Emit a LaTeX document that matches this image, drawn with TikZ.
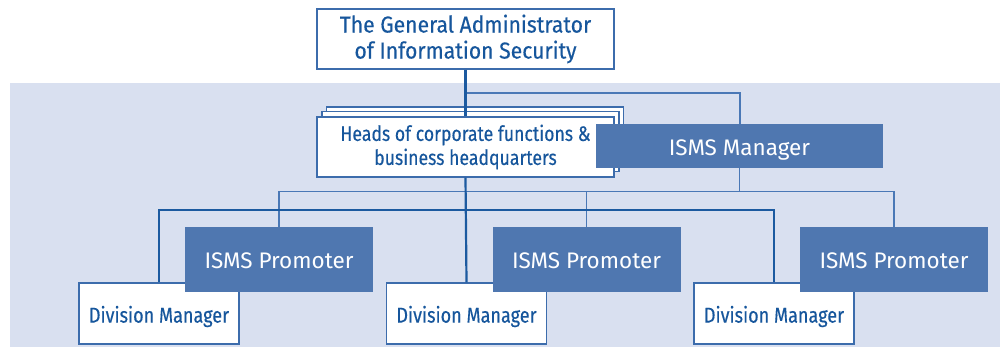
\documentclass[tikz,border=0pt]{standalone}
\usepackage{fontspec}
\setmainfont{Fira Sans}
\newfontfamily\topfont{Fira Sans}[FakeStretch=0.92,FakeBold=0.3]
\newfontfamily\condfont{Fira Sans}[FakeStretch=0.84,FakeBold=0.3]
\definecolor{bgc}{RGB}{217,224,240}
\definecolor{txtc}{RGB}{22,86,156}
\definecolor{bordc}{RGB}{60,108,172}
\definecolor{ismsc}{RGB}{79,119,176}
\definecolor{thickc}{RGB}{28,90,160}
\definecolor{thinc}{RGB}{74,120,182}
\newcommand{\lowerby}[2]{\raisebox{-#1}[\height][\depth]{#2}}
\tikzset{
  whitebox/.style={draw=bordc, fill=white, line width=1.4pt, inner sep=0pt, align=center, text=txtc},
  ismsbox/.style={fill=ismsc, draw=none, inner sep=0pt, text=white, align=center},
  thickline/.style={draw=thickc, line width=2.2pt},
  thinline/.style={draw=thinc, line width=1.2pt},
}
\begin{document}
\begin{tikzpicture}[x=1pt,y=-1pt]
\useasboundingbox (0,0) rectangle (1000,347);
\fill[bgc] (10,83) rectangle (1000,347);
% coordinates for branch levels
\coordinate (mj) at (0,93);
\coordinate (tj) at (0,191.5);
\coordinate (bj) at (0,210);
% top box
\node[whitebox, minimum width=297pt, minimum height=60pt,
  font=\topfont\fontsize{23}{26}\selectfont] (top) at (465.5,39)
  {The General Administrator\\of Information Security};
% heads stack
\node[whitebox, minimum width=297pt, minimum height=60pt] (hc2) at (475,137) {};
\node[whitebox, minimum width=297pt, minimum height=60pt] (hc1) at (470.5,141.5) {};
\node[whitebox, minimum width=297pt, minimum height=60pt,
  font=\condfont\fontsize{21}{24}\selectfont] (heads) at (465.5,147)
  {Heads of corporate functions \&\\business headquarters};
% connectors top
\draw[thinline] (top.south) -- (top.south |- mj) -| (740,124) coordinate (mgrtop);
\draw[thickline] (top.south) -- (heads.north);
% ISMS manager
\node[ismsbox, minimum width=287pt, minimum height=44pt,
  font=\fontsize{22.5}{25}\selectfont] (mgr) at (739.5,146) {\lowerby{4pt}{ISMS Manager}};
% division managers
\foreach \i/\dx in {1/0,2/307.5,3/615}{
  \node[whitebox, minimum width=160pt, minimum height=61pt,
    font=\condfont\fontsize{21.5}{24}\selectfont] (d\i) at (159+\dx,313.5) {\lowerby{3pt}{Division Manager}};
}
% promoters
\foreach \i/\dx in {1/0,2/307.5,3/615}{
  \node[ismsbox, minimum width=188pt, minimum height=65pt,
    font=\fontsize{22.5}{25}\selectfont] (p\i) at (279+\dx,259.5) {\lowerby{1.5pt}{ISMS Promoter}};
}
% thin tree
\draw[thinline] (mgr.south) -- (mgr.south |- tj);
\draw[thinline] (p1.north) -- (p1.north |- tj) -- (p3.north |- tj) -- (p3.north);
\draw[thinline] (p2.north) -- (p2.north |- tj);
% thick tree
\draw[thickline] (heads.south) -- (d2.north);
\draw[thickline] (d1.north) -- (d1.north |- bj) -- (d3.north |- bj) -- (d3.north);
\end{tikzpicture}
\end{document}
